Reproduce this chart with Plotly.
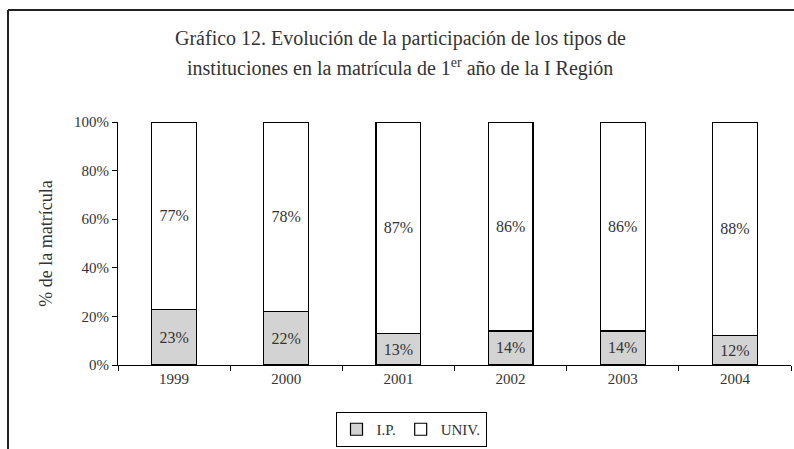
import plotly.graph_objects as go

years = ["1999", "2000", "2001", "2002", "2003", "2004"]
ip_values = [23, 22, 13, 14, 14, 12]
univ_values = [77, 78, 87, 86, 86, 88]
y_ticks = [0, 20, 40, 60, 80, 100]
y_tick_labels = ["0%", "20%", "40%", "60%", "80%", "100%"]
title_lines = [
    "Gráfico 12. Evolución de la participación de los tipos de",
    "instituciones en la matrícula de 1<sup>er</sup> año de la I Región",
]

font_name = "Liberation Serif"
text_color = "#333333"

W, H = 794, 449
m_l, m_r, m_t, m_b = 118, 3, 122, 84

fig = go.Figure()

fig.add_trace(go.Bar(
    x=years, y=ip_values, name="I.P.",
    marker=dict(color="#d3d3d3", line=dict(color="black", width=1.2)),
    texttemplate="%{y}%", textposition="inside", insidetextanchor="middle",
    textfont=dict(family=font_name, size=16, color=text_color),
))
fig.add_trace(go.Bar(
    x=years, y=univ_values, name="UNIV.",
    marker=dict(color="white", line=dict(color="black", width=1.2)),
    texttemplate="%{y}%", textposition="inside", insidetextanchor="middle",
    textfont=dict(family=font_name, size=16, color=text_color),
))

# pixel -> paper helpers
pw = W - m_l - m_r
ph = H - m_t - m_b
def px_x(p):
    return (p - m_l) / pw
def px_y(p):
    return (H - m_b - p) / ph

# outer frame (runs off the right and bottom edges)
fig.add_shape(type="line", xref="paper", yref="paper",
              x0=px_x(8), x1=px_x(800), y0=px_y(10), y1=px_y(10),
              line=dict(color="#222222", width=2))
fig.add_shape(type="line", xref="paper", yref="paper",
              x0=px_x(8), x1=px_x(8), y0=px_y(10), y1=px_y(460),
              line=dict(color="#222222", width=2))

# two-line title
for line, yc in zip(title_lines, [38, 67]):
    fig.add_annotation(text=line, xref="paper", yref="paper",
                       x=px_x(400), y=px_y(yc), xanchor="center", yanchor="middle",
                       showarrow=False,
                       font=dict(family=font_name, size=20, color=text_color))

fig.update_layout(
    width=W, height=H,
    barmode="stack", bargap=0.6,
    paper_bgcolor="white", plot_bgcolor="white",
    margin=dict(l=m_l, r=m_r, t=m_t, b=m_b, autoexpand=False),
    font=dict(family=font_name, color=text_color, size=15),
    xaxis=dict(
        type="category", showline=True, linecolor="black", linewidth=1,
        ticks="outside", tickson="boundaries", ticklen=5, tickcolor="black",
        showgrid=False, tickfont=dict(size=15), automargin=False,
    ),
    yaxis=dict(
        range=[0, 100], tickvals=y_ticks, ticktext=y_tick_labels,
        showline=True, linecolor="black", linewidth=1,
        ticks="outside", ticklen=5, tickcolor="black",
        showgrid=False, zeroline=False, tickfont=dict(size=15),
        automargin=False,
        title=dict(text="% de la matrícula", font=dict(size=18), standoff=16),
    ),
    showlegend=True,
    legend=dict(
        orientation="h", xref="container", yref="container",
        x=411 / W, xanchor="center", y=1 - 412 / H, yanchor="top",
        bordercolor="black", borderwidth=1, bgcolor="white",
        font=dict(size=15), traceorder="normal",
        itemwidth=30, tracegroupgap=0,
    ),
)

fig.write_html("out.html", config={"displayModeBar": False},
               post_script="document.body.style.margin='0';")
